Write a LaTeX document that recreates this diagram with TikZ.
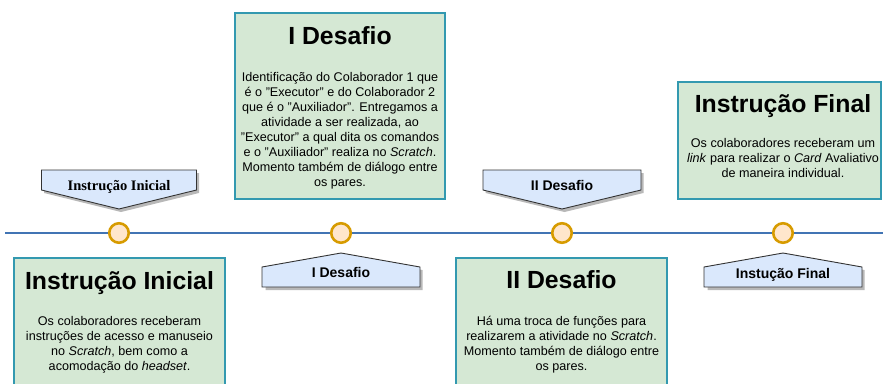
\documentclass[tikz,border=0pt]{standalone}
\usepackage{fontspec}
\setmainfont{Liberation Sans}
\newfontfamily\serifb{Liberation Serif}
\definecolor{boxfill}{HTML}{D5E8D4}
\definecolor{boxline}{HTML}{3399B0}
\definecolor{callfill}{HTML}{DAE8FC}
\definecolor{callline}{HTML}{333333}
\definecolor{dotfill}{HTML}{FFE6CC}
\definecolor{dotline}{HTML}{D79B00}
\definecolor{axis}{HTML}{4174B4}
\tikzset{
  stagebox/.style={draw=boxline, fill=boxfill, line width=2.6pt, inner sep=0pt},
  titletext/.style={font=\fontsize{24.8}{28}\selectfont\bfseries, anchor=base, inner sep=0pt},
  bodytext/.style={font=\fontsize{12.6}{15.1}\selectfont, anchor=north, inner sep=0pt, align=center},
  calltext/.style={font=\fontsize{14}{16}\selectfont\bfseries, anchor=base, inner sep=0pt},
  callshape/.style={draw=callline, fill=callfill, line width=0.9pt, line join=miter},
  callshadow/.style={fill=black, opacity=0.28},
  dot/.style={circle, draw=dotline, fill=dotfill, line width=2.6pt, minimum size=19.5pt, inner sep=0pt},
}
\begin{document}
\begin{tikzpicture}[x=1pt, y=-1pt]
\useasboundingbox (0,0) rectangle (883,383);
\clip (0,0) rectangle (883,383);

% timeline
\coordinate (lstart) at (5,233);
\coordinate (lend) at (885,233);
\draw[axis, line width=2.2pt] (lstart) -- (lend);

% dots
\node[dot] (d1) at (119,233) {};
\node[dot] (d2) at (341,233) {};
\node[dot] (d3) at (562,233) {};
\node[dot] (d4) at (783,233) {};

% boxes
\path[stagebox] (14,258) rectangle (225,450);
\node[titletext] (t1) at (119.5,289) {Instrução Inicial};
\node[bodytext] (b1) at (119.5,314.5) {\strut Os colaboradores receberam\\instruções de acesso e manuseio\\no \textit{Scratch}, bem como a\\acomodação do \textit{headset}.};

\path[stagebox] (235,13) rectangle (445,199);
\node[titletext] (t2) at (340,44) {I Desafio};
\node[bodytext] (b2) at (340,70.5) {\strut Identificação do Colaborador 1 que\\é o "Executor" e do Colaborador 2\\que é o "Auxiliador". Entregamos a\\atividade a ser realizada, ao\\"Executor" a qual dita os comandos\\e o "Auxiliador" realiza no \textit{Scratch}.\\Momento também de diálogo entre\\os pares.};

\path[stagebox] (456,258) rectangle (667,450);
\node[titletext] (t3) at (561.5,288) {II Desafio};
\node[bodytext] (b3) at (561.5,314.5) {\strut Há uma troca de funções para\\realizarem a atividade no \textit{Scratch}.\\Momento também de diálogo entre\\os pares.};

\path[stagebox] (678,82) rectangle (881,199);
\node[titletext] (t4) at (783,112) {Instrução Final};
\node[bodytext] (b4) at (783,136.5) {\strut Os colaboradores receberam um\\\textit{link} para realizar o \textit{Card} Avaliativo\\de maneira individual.};

% callouts (down)
\fill[callshadow] (44,173) -- (199,173) -- (199,193) -- (121,212) -- (44,193) -- cycle;
\path[callshape] (41.5,170) -- (196.5,170) -- (196.5,190) -- (119,209) -- (41.5,190) -- cycle;
\node[calltext, font=\fontsize{14.5}{16}\selectfont\bfseries\serifb] (c1) at (119,190) {Instrução Inicial};

\fill[callshadow] (485.5,173) -- (643.5,173) -- (643.5,193) -- (564.5,212) -- (485.5,193) -- cycle;
\path[callshape] (483,170) -- (641,170) -- (641,190) -- (562,209) -- (483,190) -- cycle;
\node[calltext] (c3) at (562,190) {II Desafio};

% callouts (up)
\fill[callshadow] (343.5,256) -- (422.5,270) -- (422.5,290) -- (265.5,290) -- (265.5,270) -- cycle;
\path[callshape] (341,253) -- (420,267) -- (420,287) -- (262,287) -- (262,267) -- cycle;
\node[calltext] (c2) at (341,277) {I Desafio};

\fill[callshadow] (785.5,256) -- (864.5,270) -- (864.5,290) -- (707.5,290) -- (707.5,270) -- cycle;
\path[callshape] (783,253) -- (862,267) -- (862,287) -- (704,287) -- (704,267) -- cycle;
\node[calltext] (c4) at (783,278) {Instução Final};
\end{tikzpicture}
\end{document}
